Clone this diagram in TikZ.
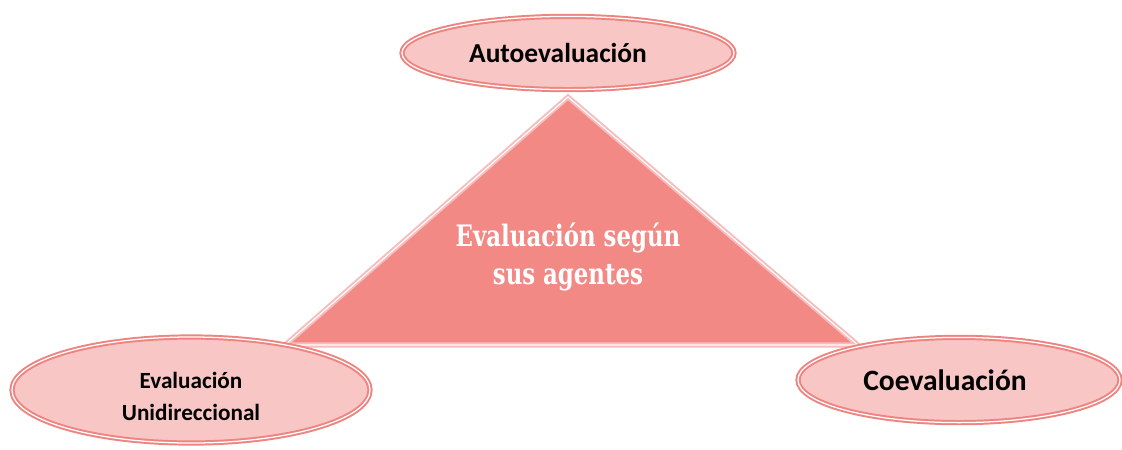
\documentclass[tikz,border=0pt]{standalone}
\usepackage{fontspec}
\usetikzlibrary{shapes.geometric}
\setmainfont{Carlito}
\newfontfamily\trifont{DejaVu Serif Condensed}[FakeStretch=0.86]
\definecolor{ovalfill}{HTML}{F9C6C6}
\definecolor{ovalline}{HTML}{EE8480}
\definecolor{trifill}{HTML}{F28985}
\definecolor{triline}{HTML}{F7BDBD}
\tikzset{
  agente/.style={ellipse, fill=ovalfill, draw=ovalline, line width=1.4pt,
    double=white, double distance=0.9pt, align=center, font=\bfseries, inner sep=0pt},
  triangulo/.style={fill=trifill, draw=triline, line width=1.4pt,
    double=white, double distance=0.8pt, line join=miter},
}
\begin{document}
\begin{tikzpicture}[x=0.025cm, y=-0.025cm]
                \useasboundingbox (0,0) rectangle (1122,449);
                \coordinate (Apex) at (568,97);
                \coordinate (BaseL) at (285,345);
                \coordinate (BaseR) at (858,345);
                \draw[triangulo] (Apex) -- (BaseL) -- (BaseR) -- cycle;
                \node[text=white, align=center, font=\trifont\bfseries\fontsize{21}{27}\selectfont] (Tema) at (568,257) {Evaluación según\\sus agentes};
                \node[agente, minimum width=8.3cm, minimum height=1.83cm, font=\bfseries\fontsize{19.5}{22}\selectfont] (Auto) at (568,53) {Autoevaluación\hspace{0.5cm}};
                \node[agente, minimum width=8.95cm, minimum height=2.65cm, font=\bfseries\fontsize{16.5}{22.5}\selectfont] (Uni) at (191,390) {\rule{0pt}{21pt}Evaluación\\Unidireccional};
                \node[agente, minimum width=8.05cm, minimum height=2.13cm, font=\bfseries\fontsize{21}{24}\selectfont] (Coe) at (959,380) {Coevaluación\hspace{0.7cm}};
            \end{tikzpicture}
\end{document}
